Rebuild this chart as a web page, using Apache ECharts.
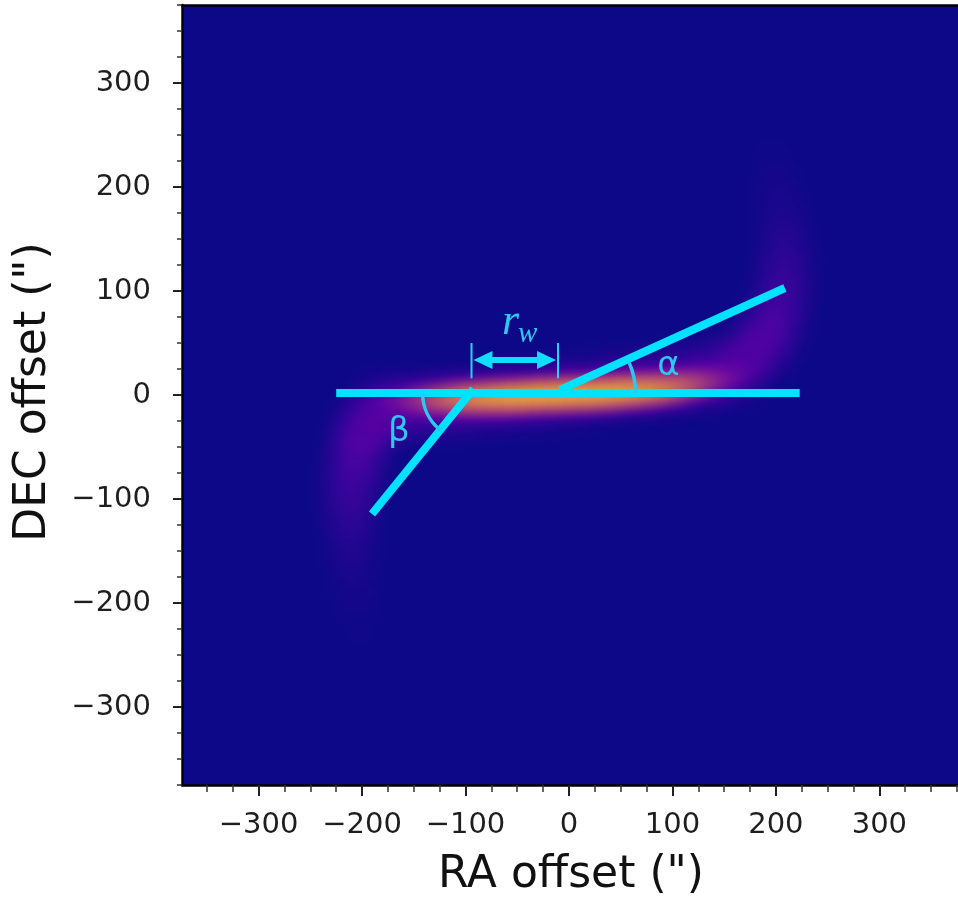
<!DOCTYPE html>
<html>
<head>
<meta charset="utf-8">
<script src="https://cdn.jsdelivr.net/npm/echarts@6/dist/echarts.min.js"></script>
<style>
html,body{margin:0;padding:0;background:#fff;}
#c{width:958px;height:903px;}
</style>
</head>
<body>
<div id="c"></div>
<script>
// ---------- data ----------
const xTicks = [-300, -200, -100, 0, 100, 200, 300];
const yTicks = [-300, -200, -100, 0, 100, 200, 300];
const xMinor = [-350,-325,-275,-250,-225,-175,-150,-125,-75,-50,-25,25,50,75,125,150,175,225,250,275,325,350,375];
const yMinor = [-375,-350,-325,-275,-250,-225,-175,-150,-125,-75,-50,-25,25,50,75,125,150,175,225,250,275,325,350,375];

// bright emission core samples [RA, DEC, relative intensity]
const coreRidge = [
  [-195,-6,0.12],[-180,-6,0.22],[-165,-5,0.34],[-150,-5,0.48],[-135,-4,0.62],[-120,-4,0.74],
  [-105,-3,0.84],[-90,-3,0.9],[-75,-2,0.95],[-60,-2,0.98],[-45,-1,1],[-30,0,1],[-15,0,1],
  [0,1,1],[15,1,1],[30,2,1],[45,3,0.98],[60,4,0.95],[75,5,0.9],[90,6,0.84],[105,8,0.74],
  [120,10,0.62],[135,12,0.48],[150,15,0.34],[165,19,0.22],[178,24,0.12]
];
// diffuse envelope samples [RA, DEC, relative intensity]
const envelopeCore = [
  [-185,-14,0.26],[-155,-12,0.27],[-120,-10,0.27],[-85,-6,0.27],[-50,-3,0.27],[-15,1,0.27],
  [20,5,0.27],[55,9,0.27],[90,13,0.27],[125,18,0.27],[155,24,0.26]
];
const rightWing = [
  [176,38,0.25],[190,58,0.21],[199,80,0.18],[204,104,0.15],[206,128,0.12],[205,152,0.09],
  [202,177,0.07],[198,202,0.05],[194,226,0.03]
];
const leftWing = [
  [-198,-32,0.24],[-206,-54,0.2],[-210,-78,0.17],[-212,-102,0.14],[-212,-126,0.11],
  [-211,-152,0.08],[-209,-178,0.06],[-206,-204,0.04],[-203,-228,0.025]
];

// annotation geometry (data units)
const horizLine = [[-225, 2], [223, 2]];
const alphaLine = [[-8.7, 4.8], [208.7, 102.9]];
const betaLine  = [[-92.3, 5.8], [-190.4, -114.4]];
const rwBarLeft  = [[-94.2, 16], [-94.2, 50]];
const rwBarRight = [[-10.6, 16], [-10.6, 50]];
const rwArrow = [[-92.3, -12.5, 33.7]];          // [xFrom, xTo, y]
const angleArcs = [[-8.7, 2, 73, -24.3, 0], [-95.5, 2, 46, 129, 180]]; // [cx, cy, r, startDeg, endDeg]
const labels = [
  [96.2, 27.5, 'α', 'sans'],
  [-164.4, -35.6, 'β', 'sans'],
  [-56.5, 70, 'r', 'serifBig'],
  [-39.8, 58.7, 'w', 'serifSmall']
];

const plasma = ['#0d0887','#46039f','#7201a8','#9c179e','#bd3786','#d8576b','#ed7953','#fb9f3a','#fdca26','#f0f921'];

// ---------- map box for the image layer ----------
const X0 = -374, X1 = 376, Y0 = -375, Y1 = 375;
echarts.registerMap('box', {
  type: 'FeatureCollection',
  features: [{
    type: 'Feature', properties: {name: 'box'},
    geometry: {type: 'Polygon', coordinates: [[[X0,Y0],[X1,Y0],[X1,Y1],[X0,Y1],[X0,Y0]]]}
  }]
});

const GL = 182, GT = 5, GW = 780, GH = 780;
const cyan = '#00e2ff';
const cyan2 = '#2fc6f2';
const minus = v => v < 0 ? '\u2212' + Math.abs(v) : String(v);

const chart = echarts.init(document.getElementById('c'), null, {renderer: 'canvas'});

const lineSeries = (data) => ({
  type: 'line', data: data, xAxisIndex: 0, yAxisIndex: 0, symbol: 'none', z: 3,
  silent: true, animation: false,
  lineStyle: {color: cyan, width: 8, cap: 'butt'}
});
const barSeries = (data) => ({
  type: 'line', data: data, xAxisIndex: 0, yAxisIndex: 0, symbol: 'none', z: 3,
  silent: true, animation: false,
  lineStyle: {color: '#1fd4f7', width: 2, cap: 'butt'}
});

const axisLabelStyle = {fontFamily: 'DejaVu Sans', fontSize: 29, color: '#1e1e1e'};

chart.setOption({
  animation: false,
  backgroundColor: '#ffffff',
  grid: {left: GL, top: GT, width: GW, height: GH, containLabel: false, show: false},
  geo: {
    map: 'box', roam: false, silent: true, z: 0,
    aspectScale: 1,
    boundingCoords: [[X0, Y1], [X1, Y0]],
    left: GL, top: GT, width: GW, height: GH,
    itemStyle: {areaColor: '#0d0887', borderWidth: 0},
    emphasis: {disabled: true},
    label: {show: false}
  },
  visualMap: {
    type: 'continuous', show: false, min: 0, max: 1, seriesIndex: [0, 1],
    inRange: {color: plasma}
  },
  xAxis: [
    {type: 'value', min: X0, max: X1, position: 'bottom', z: 10,
      splitLine: {show: false},
      axisLine: {show: true, onZero: false, lineStyle: {color: '#000', width: 2.5}},
      axisTick: {show: true, inside: false, length: 11, customValues: xTicks, lineStyle: {color: '#222', width: 2}},
      axisLabel: Object.assign({show: true, margin: 26, customValues: xTicks, formatter: minus}, axisLabelStyle)
    },
    {type: 'value', min: X0, max: X1, position: 'bottom', z: 10,
      splitLine: {show: false},
      axisLine: {show: false, onZero: false},
      axisTick: {show: true, inside: false, length: 7, customValues: xMinor, lineStyle: {color: '#333', width: 1.5}},
      axisLabel: {show: false}
    },
    {type: 'value', min: X0, max: X1, position: 'top', z: 10,
      splitLine: {show: false},
      axisLine: {show: true, onZero: false, lineStyle: {color: '#000', width: 2.5}},
      axisTick: {show: false}, axisLabel: {show: false}
    }
  ],
  yAxis: [
    {type: 'value', min: Y0, max: Y1, position: 'left', z: 10,
      splitLine: {show: false},
      axisLine: {show: true, onZero: false, lineStyle: {color: '#000', width: 2.5}},
      axisTick: {show: true, inside: false, length: 9, customValues: yTicks, lineStyle: {color: '#222', width: 2}},
      axisLabel: Object.assign({show: true, margin: 31, customValues: yTicks, formatter: minus}, axisLabelStyle)
    },
    {type: 'value', min: Y0, max: Y1, position: 'left', z: 10,
      splitLine: {show: false},
      axisLine: {show: false, onZero: false},
      axisTick: {show: true, inside: false, length: 5, customValues: yMinor, lineStyle: {color: '#333', width: 1.5}},
      axisLabel: {show: false}
    }
  ],
  graphic: [
    {type: 'text', x: 571, y: 876, z: 20, silent: true,
      style: {text: 'RA offset (")', font: '44px "DejaVu Sans"', fill: '#111', align: 'center', verticalAlign: 'middle'}},
    {type: 'text', x: 34, y: 392, rotation: Math.PI / 2, z: 20, silent: true,
      style: {text: 'DEC offset (")', font: '44px "DejaVu Sans"', fill: '#111', align: 'center', verticalAlign: 'middle'}}
  ],
  series: [
    {
      type: 'heatmap', coordinateSystem: 'geo', geoIndex: 0, z: 1, silent: true,
      data: [].concat(envelopeCore, rightWing, leftWing),
      pointSize: 18, blurSize: 42, minOpacity: 1, maxOpacity: 1
    },
    {
      type: 'heatmap', coordinateSystem: 'geo', geoIndex: 0, z: 2, silent: true,
      data: coreRidge,
      pointSize: 16, blurSize: 24, minOpacity: 0, maxOpacity: 1
    },
    lineSeries(horizLine),
    lineSeries(alphaLine),
    lineSeries(betaLine),
    barSeries(rwBarLeft),
    barSeries(rwBarRight),
    {
      type: 'custom', coordinateSystem: 'cartesian2d', xAxisIndex: 0, yAxisIndex: 0, z: 4, silent: true,
      data: rwArrow, encode: {x: [0, 1], y: 2},
      renderItem: function (params, api) {
        const p1 = api.coord([api.value(0), api.value(2)]);
        const p2 = api.coord([api.value(1), api.value(2)]);
        const hl = 19, hw = 9;
        return {type: 'group', children: [
          {type: 'line', shape: {x1: p1[0] + hl - 2, y1: p1[1], x2: p2[0] - hl + 2, y2: p2[1]},
            style: {stroke: '#12dcff', lineWidth: 6}},
          {type: 'polygon', shape: {points: [[p1[0], p1[1]], [p1[0] + hl, p1[1] - hw], [p1[0] + hl, p1[1] + hw]]},
            style: {fill: '#12dcff'}},
          {type: 'polygon', shape: {points: [[p2[0], p2[1]], [p2[0] - hl, p2[1] - hw], [p2[0] - hl, p2[1] + hw]]},
            style: {fill: '#12dcff'}}
        ]};
      }
    },
    {
      type: 'custom', coordinateSystem: 'cartesian2d', xAxisIndex: 0, yAxisIndex: 0, z: 4, silent: true,
      data: angleArcs,
      renderItem: function (params, api) {
        const c = api.coord([api.value(0), api.value(1)]);
        const r = api.size([api.value(2), 0])[0];
        return {type: 'arc',
          shape: {cx: c[0], cy: c[1], r: r, startAngle: api.value(3) * Math.PI / 180, endAngle: api.value(4) * Math.PI / 180, clockwise: true},
          style: {stroke: cyan2, lineWidth: 3.5, fill: null}};
      }
    },
    {
      type: 'custom', coordinateSystem: 'cartesian2d', xAxisIndex: 0, yAxisIndex: 0, z: 5, silent: true,
      data: labels,
      renderItem: function (params, api) {
        const item = labels[params.dataIndex];
        const p = api.coord([item[0], item[1]]);
        const fonts = {
          sans: '34px "DejaVu Sans"',
          serifBig: 'italic 44px "Liberation Serif"',
          serifSmall: 'italic 29px "Liberation Serif"'
        };
        return {type: 'text', x: p[0], y: p[1],
          style: {text: item[2], font: fonts[item[3]], fill: cyan2, align: 'center', verticalAlign: 'middle'}};
      }
    }
  ]
});
</script>
</body>
</html>
